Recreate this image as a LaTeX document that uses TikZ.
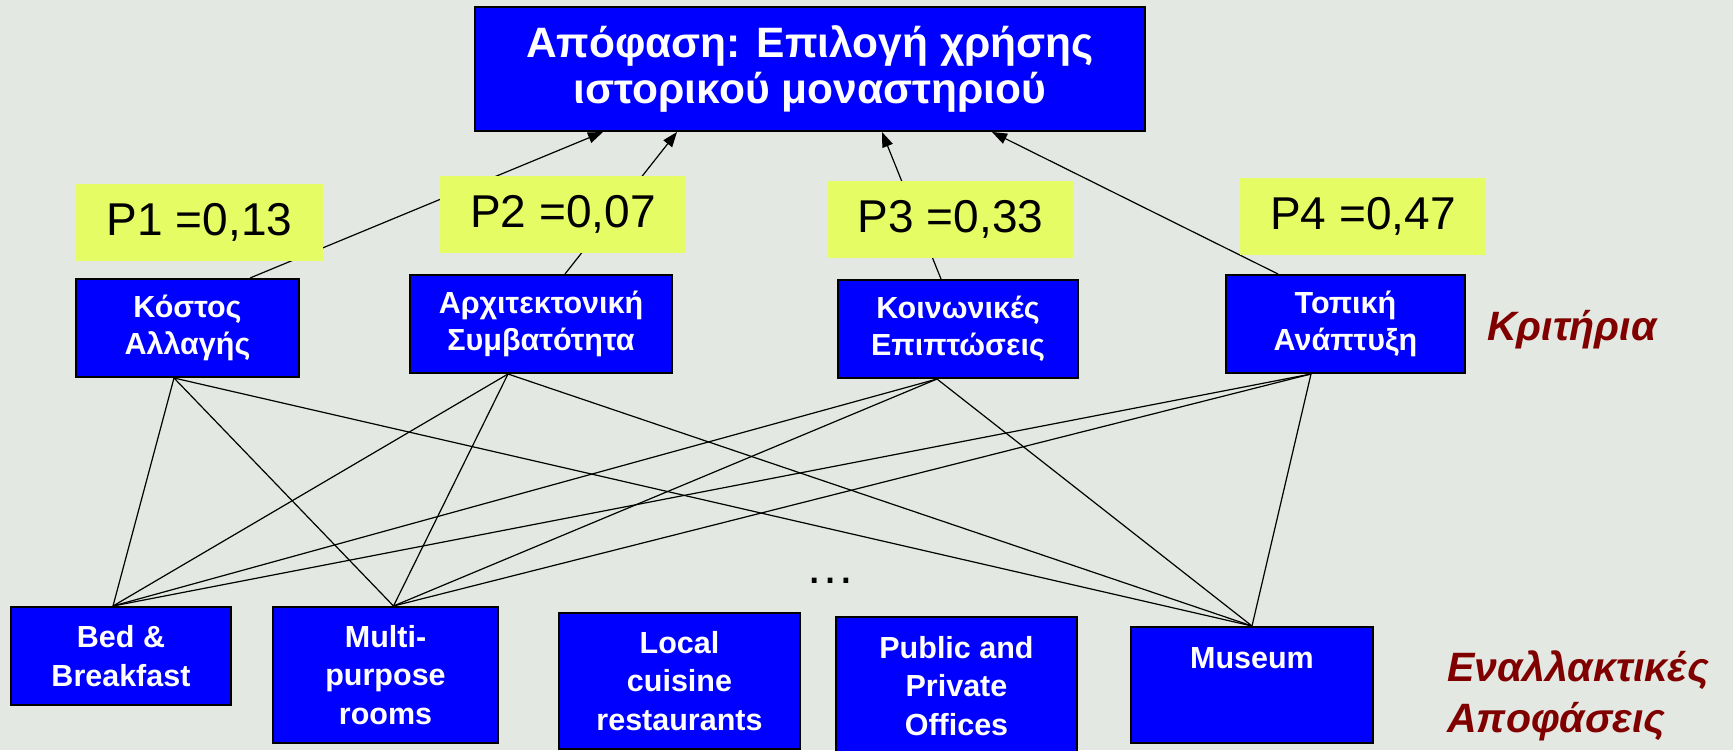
\documentclass[tikz,border=0pt]{standalone}
\usepackage{fontspec}
\setmainfont{Liberation Sans}
\usetikzlibrary{
    arrows.meta
}
\definecolor{slidebg}{RGB}{227,232,226}
\definecolor{boxblue}{RGB}{0,0,255}
\definecolor{weightyellow}{RGB}{230,252,100}
\definecolor{labelred}{RGB}{128,0,0}
\tikzset{
    % Boxes
    goal box/.style={draw=black,line width=2pt,fill=boxblue,text=white,align=center,inner sep=0pt,
        font=\fontsize{42.5}{46}\selectfont\bfseries},
    crit box/.style={draw=black,line width=2pt,fill=boxblue,text=white,align=center,inner sep=0pt,
        minimum height=98pt,font=\fontsize{30.5}{37}\selectfont\bfseries},
    alt box/.style={draw=black,line width=2pt,fill=boxblue,text=white,align=center,inner sep=0pt,
        font=\fontsize{30.5}{38.5}\selectfont\bfseries},
    weight box/.style={fill=weightyellow,inner sep=0pt,minimum height=77pt,
        font=\fontsize{46}{55}\selectfont},
    %
    % Labels
    level label/.style={text=labelred,inner sep=0pt,align=left,
        font=\fontsize{41}{51}\selectfont\bfseries\itshape},
    %
    % Arrows
    weight tip/.tip={Triangle[length=15pt,width=11pt]},
    arr/.style={->,>={weight tip},line width=1.2pt},
    link/.style={line width=1.2pt}
}

\begin{document}
\begin{tikzpicture}[x=1pt,y=-1pt]
    \fill[slidebg] (0,0) rectangle (1733,750);
    \useasboundingbox (0,0) rectangle (1733,750);

    \node[goal box,minimum width=670pt,minimum height=124pt] (goal) at (810,69)
        {Απόφαση: Επιλογή χρήσης\\ιστορικού μοναστηριού};

    % criteria
    \node[crit box,minimum width=223pt] (cost) at (187.5,328) {Κόστος\\Αλλαγής};
    \node[crit box,minimum width=262pt] (arch) at (541,324) {Αρχιτεκτονική\\Συμβατότητα};
    \node[crit box,minimum width=240pt] (social) at (958,329) {Κοινωνικές\\Επιπτώσεις};
    \node[crit box,minimum width=239pt] (dev) at (1345.5,324) {Τοπική\\Ανάπτυξη};

    % alternatives
    \node[alt box,minimum width=220pt,minimum height=98pt] (bnb) at (121,656) {Bed \&\\Breakfast};
    \node[alt box,minimum width=225pt,minimum height=136pt] (halls) at (385.5,675) {Multi-\\purpose\\rooms};
    \node[alt box,minimum width=241pt,minimum height=136pt] (food) at (679.5,681) {Local\\cuisine\\restaurants};
    \node[alt box,minimum width=241pt,minimum height=138pt] (offices) at (956.5,686) {Public and\\Private\\Offices};
    \node[alt box,minimum width=242pt,minimum height=116pt,text height=22pt,text depth=56pt] (museum) at (1252,685) {Museum};
    \node[font=\fontsize{50}{60}\selectfont,inner sep=0pt,anchor=base] (more) at (830,583) {…};

    \foreach \c/\cs/\gs in {cost/62.5/-207,arch/24/-133,social/-17/72,dev/-67.5/182}
        \draw[arr] ([xshift=\cs pt]\c.north) -- ([xshift=\gs pt]goal.south);

    \foreach \c/\cs in {cost/-13.5,arch/-33,social/-21,dev/-34.5}
        \foreach \a/\as in {bnb/-8,halls/8,museum/0}
            \draw[link] ([xshift=\cs pt]\c.south) -- ([xshift=\as pt]\a.north);

    % weights
    \node[weight box,minimum width=247pt] (w1) at (199.5,222.5) {P1 =0,13};
    \node[weight box,minimum width=246pt] (w2) at (563,214.5) {P2 =0,07};
    \node[weight box,minimum width=245pt] (w3) at (950.5,219) {P3 =0,33};
    \node[weight box,minimum width=246pt] (w4) at (1363,216.5) {P4 =0,47};

    \node[level label,anchor=base west] (critlabel) at (1487,340) {Κριτήρια};
    \node[level label,anchor=west] (altlabel) at (1447,696) {Εναλλακτικές\\Αποφάσεις};
\end{tikzpicture}
\end{document}
